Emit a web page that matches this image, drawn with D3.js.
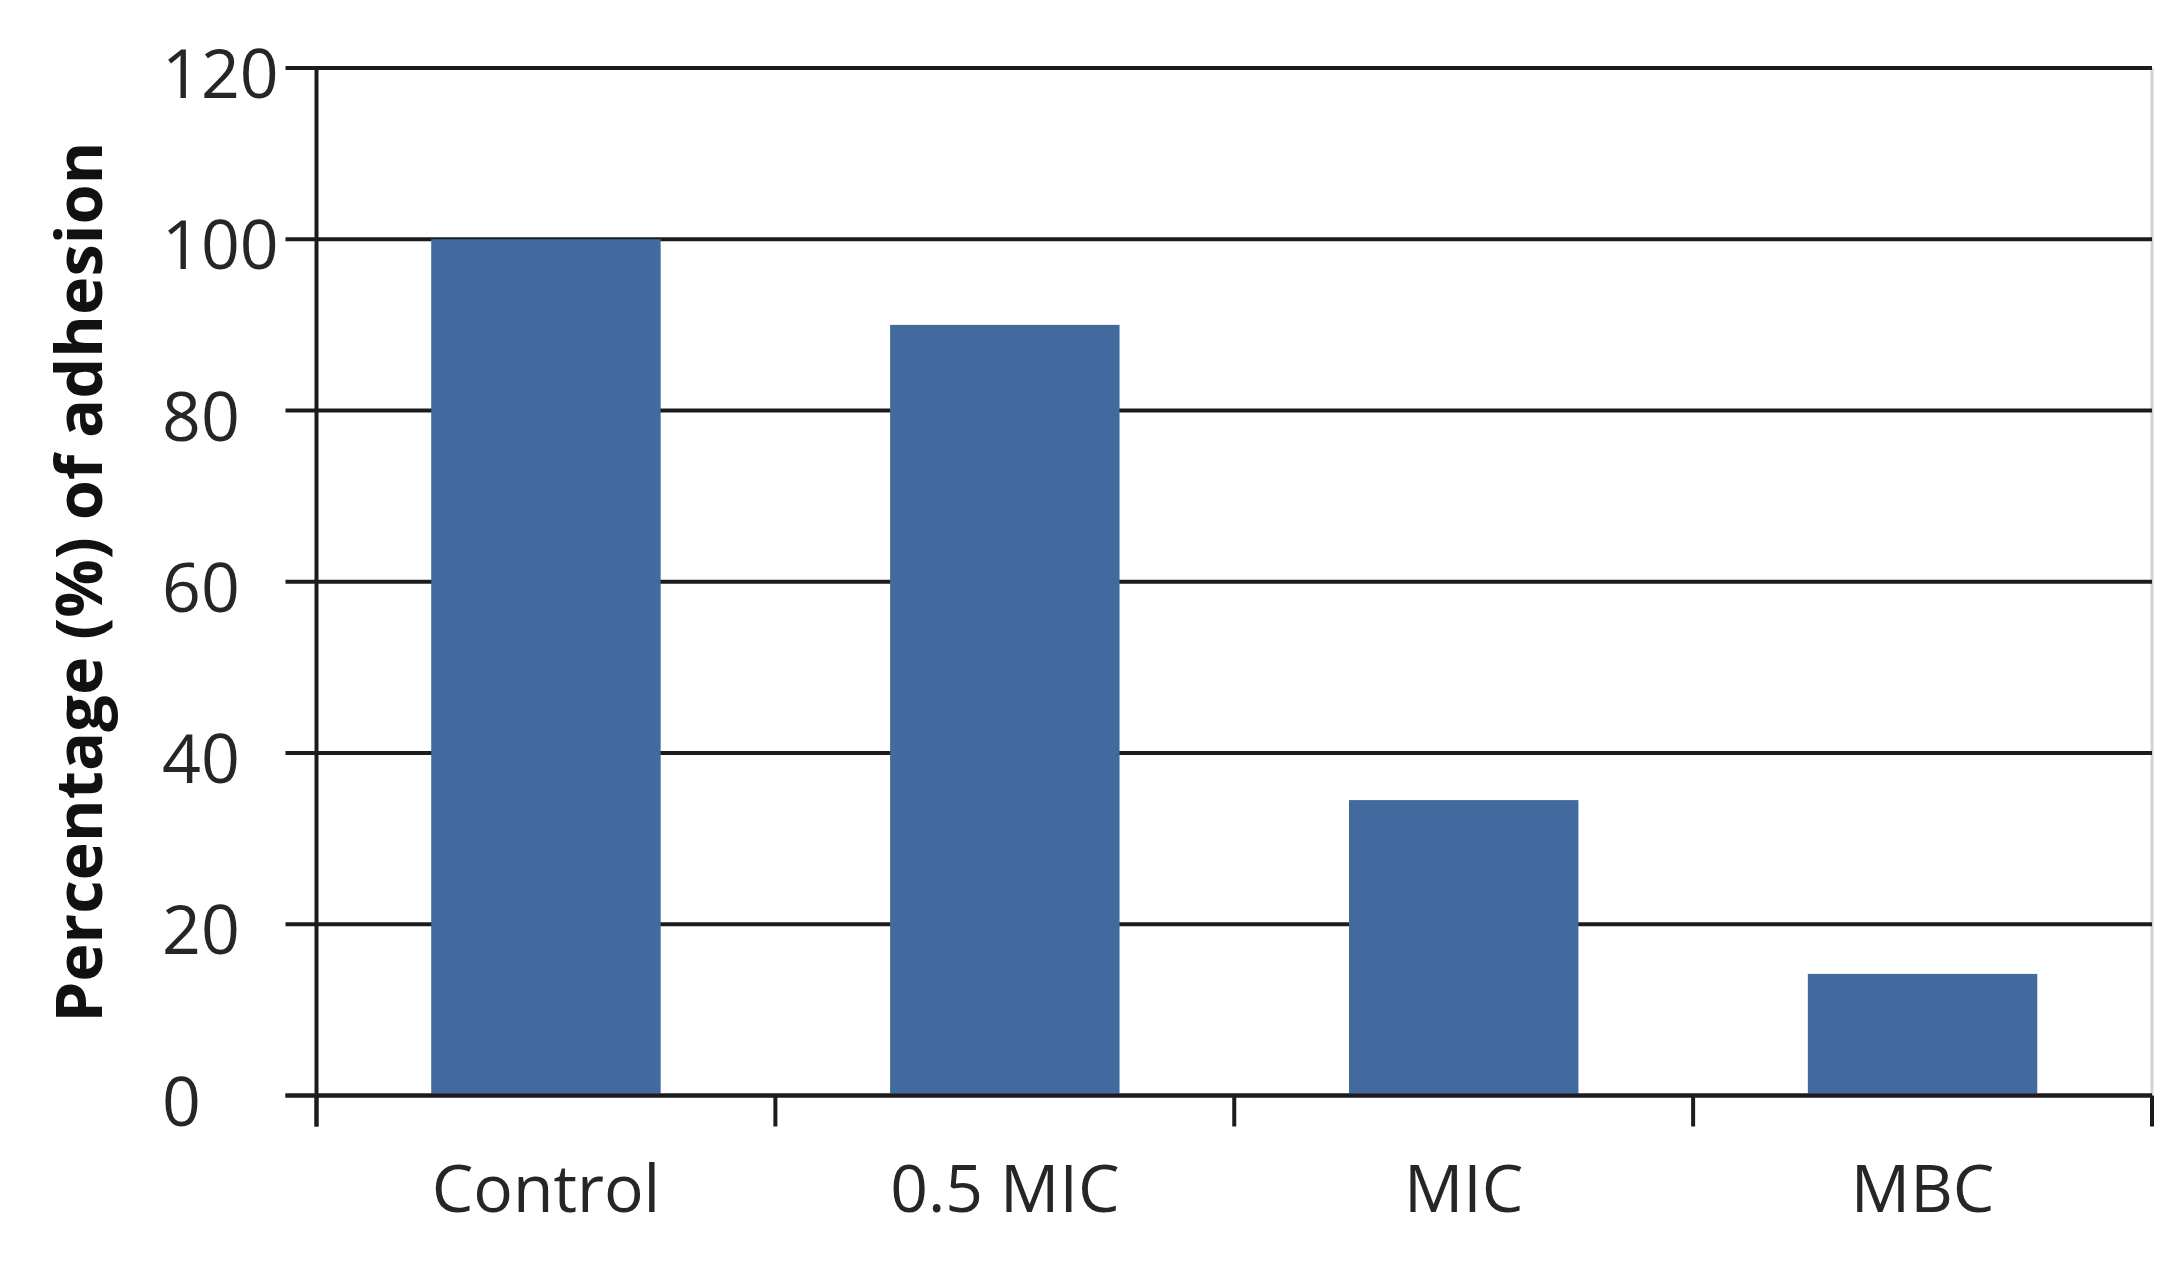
<!DOCTYPE html>
<html>
<head>
<meta charset="utf-8">
<script src="https://cdn.jsdelivr.net/npm/d3@7"></script>
<style>
  html, body { margin: 0; padding: 0; background: #ffffff; }
  svg { display: block; }
</style>
</head>
<body>
<svg id="chart" width="2177" height="1271"></svg>
<script>
const categories = ["Control", "0.5 MIC", "MIC", "MBC"];
const values = [100, 90, 34.5, 14.2];
const yTicks = [0, 20, 40, 60, 80, 100, 120];
const yTitle = "Percentage (%) of adhesion";

const W = 2177, H = 1271;
const margin = { left: 316.5, right: 25, top: 68, bottom: 175.5 };
const svg = d3.select("#chart");

const x = d3.scaleBand()
  .domain(categories)
  .range([margin.left, W - margin.right])
  .paddingInner(0.5)
  .paddingOuter(0.25);

const y = d3.scaleLinear()
  .domain([0, 120])
  .range([H - margin.bottom, margin.top]);

const lineColor = "#1c1c1c";
const font = "'Open Sans', 'Noto Sans', sans-serif";

// right plot-area border (light gray)
svg.append("line")
  .attr("x1", W - margin.right).attr("x2", W - margin.right)
  .attr("y1", y(120)).attr("y2", y(0))
  .attr("stroke", "#d4d4d4").attr("stroke-width", 3);

// gridlines with outward ticks
svg.append("g")
  .selectAll("line")
  .data(yTicks)
  .join("line")
  .attr("x1", margin.left - 31)
  .attr("x2", W - margin.right)
  .attr("y1", d => y(d))
  .attr("y2", d => y(d))
  .attr("stroke", lineColor)
  .attr("stroke-width", 4);

// bars
svg.append("g")
  .selectAll("rect")
  .data(categories.map((c, i) => ({ c, v: values[i] })))
  .join("rect")
  .attr("x", d => x(d.c))
  .attr("width", x.bandwidth())
  .attr("y", d => y(d.v))
  .attr("height", d => y(0) - y(d.v))
  .attr("fill", "#436a9f");

// baseline (x axis) over bars
svg.append("line")
  .attr("x1", margin.left - 31).attr("x2", W - margin.right)
  .attr("y1", y(0)).attr("y2", y(0))
  .attr("stroke", lineColor).attr("stroke-width", 4);

// y axis line
svg.append("line")
  .attr("x1", margin.left).attr("x2", margin.left)
  .attr("y1", y(120)).attr("y2", y(0) + 31)
  .attr("stroke", lineColor).attr("stroke-width", 4);

// x-axis ticks at category boundaries
const step = x.step();
const boundaries = categories.map(c => x(c) - step * 0.25).concat([W - margin.right]);
svg.append("g")
  .selectAll("line")
  .data(boundaries)
  .join("line")
  .attr("x1", d => d).attr("x2", d => d)
  .attr("y1", y(0)).attr("y2", y(0) + 31)
  .attr("stroke", lineColor).attr("stroke-width", 4);

// y tick labels (left aligned as in reference)
svg.append("g")
  .selectAll("text")
  .data(yTicks)
  .join("text")
  .attr("x", 162)
  .attr("y", d => y(d) + 30)
  .attr("text-anchor", "start")
  .attr("font-family", font)
  .attr("font-size", 68)
  .attr("fill", "#262626")
  .text(d => d);

// x labels
svg.append("g")
  .selectAll("text")
  .data(categories)
  .join("text")
  .attr("x", d => x(d) + x.bandwidth() / 2)
  .attr("y", 1212)
  .attr("text-anchor", "middle")
  .attr("font-family", font)
  .attr("font-size", 66)
  .attr("fill", "#262626")
  .text(d => d);

// y title
svg.append("text")
  .attr("transform", "translate(102, 582) rotate(-90)")
  .attr("text-anchor", "middle")
  .attr("font-family", font)
  .attr("font-weight", "bold")
  .attr("font-size", 65)
  .attr("fill", "#111")
  .text(yTitle);
</script>
</body>
</html>
